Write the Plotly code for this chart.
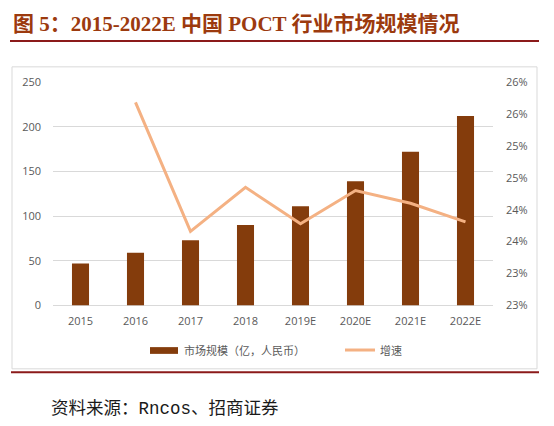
import plotly.graph_objects as go

years = ['2015', '2016', '2017', '2018', '2019E', '2020E', '2021E', '2022E']
market_size = [47, 59, 73, 90, 111, 139, 172, 212]
growth = [None, 0.2568, 0.2366, 0.2435, 0.2378, 0.2430, 0.2410, 0.2381]

y2_tickvals = [0.225, 0.23, 0.235, 0.24, 0.245, 0.25, 0.255, 0.26]
y2_ticktext = ['23%', '23%', '24%', '24%', '25%', '25%', '26%', '26%']

bar_name = '市场规模（亿，人民币）'
line_name = '增速'
bar_color = '#843C0C'
line_color = '#F4B183'

W, H = 554, 426
tick_font = dict(family='Open Sans, Noto Sans CJK SC', size=11, color='#595959')


def px(x):
    return x / W


def py(y):
    return 1 - y / H


fig = go.Figure()
fig.add_trace(go.Bar(x=years, y=market_size, name=bar_name, showlegend=False,
                     marker=dict(color=bar_color, line=dict(width=0))))
fig.add_trace(go.Scatter(x=years, y=growth, name=line_name, yaxis='y2',
                         mode='lines', showlegend=False,
                         line=dict(color=line_color, width=3)))

# legend drawn by hand so the swatches keep the reference's shape
legend_shapes = [
    dict(type='rect', xref='paper', yref='paper', x0=px(150), x1=px(178),
         y0=py(358.5), y1=py(351.5), fillcolor=bar_color, line=dict(width=0)),
    dict(type='line', xref='paper', yref='paper', x0=px(345), x1=px(375),
         y0=py(354.5), y1=py(354.5), line=dict(color=line_color, width=3)),
]
legend_notes = [
    dict(text=bar_name, xref='paper', yref='paper', x=px(182), y=py(354.5),
         xanchor='left', yanchor='middle', showarrow=False, font=tick_font),
    dict(text=line_name, xref='paper', yref='paper', x=px(378), y=py(354.5),
         xanchor='left', yanchor='middle', showarrow=False, font=tick_font),
]

fig.update_layout(
    width=W, height=H,
    margin=dict(l=0, r=0, t=0, b=0),
    paper_bgcolor='white', plot_bgcolor='white',
    bargap=0.69,
    showlegend=False,
    hovermode=False,
    xaxis=dict(domain=[px(53), px(493)], showgrid=False, showline=False,
               ticks='', tickfont=tick_font, anchor='y', ticklabelstandoff=8),
    yaxis=dict(domain=[py(308.3), py(76.7)], range=[0, 250], dtick=50,
               gridcolor='#D9D9D9', gridwidth=1, zeroline=True,
               zerolinecolor='#D9D9D9', zerolinewidth=1,
               tickfont=tick_font, ticks='', ticklabelstandoff=11),
    yaxis2=dict(overlaying='y', side='right', range=[0.225, 0.26],
                tickvals=y2_tickvals, ticktext=y2_ticktext,
                showgrid=False, zeroline=False, tickfont=tick_font,
                ticklabelstandoff=12),
    shapes=[
        dict(type='rect', xref='paper', yref='paper', x0=px(12), x1=px(537),
             y0=py(374), y1=py(61), line=dict(color='#D9D9D9', width=1)),
        dict(type='line', xref='paper', yref='paper', x0=px(10), x1=px(539),
             y0=py(34.3), y1=py(34.3), line=dict(color='#8B1A1A', width=2)),
        dict(type='line', xref='paper', yref='paper', x0=px(11), x1=px(539),
             y0=py(377.5), y1=py(377.5), line=dict(color='#8B1A1A', width=2)),
    ] + legend_shapes,
    annotations=[
        dict(text='<b>图 5：2015-2022E 中国 POCT 行业市场规模情况</b>',
             xref='paper', yref='paper', x=px(11), y=py(16.5), xanchor='left',
             yanchor='middle', showarrow=False,
             font=dict(family='Liberation Serif, Noto Sans CJK SC', size=21,
                       color='#9C3A0E')),
        dict(text='资料来源：Rncos、招商证券',
             xref='paper', yref='paper', x=px(49), y=py(416), xanchor='left',
             yanchor='middle', showarrow=False,
             font=dict(family='Liberation Mono, Noto Sans CJK SC', size=17.5,
                       color='#1A1A1A')),
    ] + legend_notes,
)

fig.write_html('out.html', config={'displayModeBar': False},
               post_script="document.body.style.margin='0';")
